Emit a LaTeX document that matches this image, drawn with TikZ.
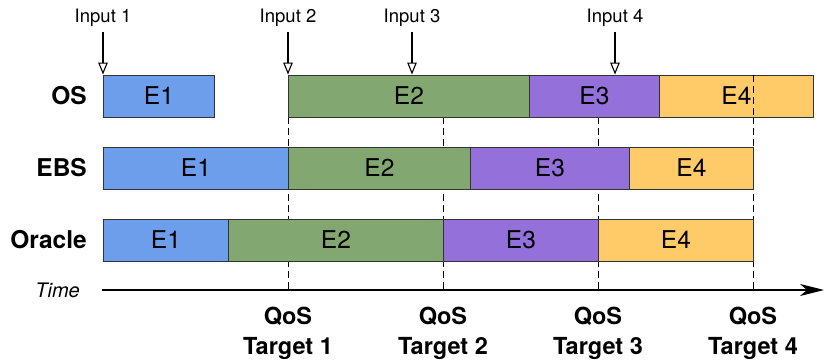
\documentclass[tikz,border=0pt]{standalone}
\usepackage{fontspec}
\setmainfont{TeX Gyre Heros}
\usetikzlibrary{arrows.meta,positioning,backgrounds}
\definecolor{ink}{HTML}{333333}
\definecolor{eblue}{HTML}{6D9EEB}
\definecolor{egreen}{HTML}{83A770}
\definecolor{epurple}{HTML}{9470DA}
\definecolor{eyellow}{HTML}{FFCA68}
\tikzset{seg/.style={draw=ink,line width=.9pt,minimum height=42pt,inner sep=0pt,anchor=west,font=\fontsize{24.5}{27}\selectfont},
 rowlabel/.style={font=\bfseries\fontsize{24.5}{28}\selectfont,inner sep=0pt},
 inlabel/.style={font=\fontsize{18.5}{21}\selectfont,inner sep=0pt},
 inarrow/.style={line width=1.1pt,-{Triangle[open,length=12pt,width=9.5pt]}},
 guideline/.style={line width=.8pt,dash pattern=on 7pt off 4pt},
 timeaxis/.style={line width=1.2pt,-{Stealth[length=24pt,width=12pt,inset=7pt]}},
 timelabel/.style={font=\itshape\fontsize{20}{23}\selectfont,inner sep=0pt},
 qoslabel/.style={font=\bfseries\fontsize{23.5}{30}\selectfont,align=center,inner sep=0pt}}

\begin{document}
\begin{tikzpicture}[x=1pt,y=-1pt]
\useasboundingbox (0,0) rectangle (830,364);
% executions per system
\foreach \k/\a/\b/\c in {1/103/214/eblue,2/288/529/egreen,3/529/659/epurple,4/659/813/eyellow}
 \node[seg,fill=\c,minimum width=\b-\a] (os\k) at (\a,96) {E\k};
\foreach \k/\a/\b/\c in {1/103/288/eblue,2/288/470/egreen,3/470/629/epurple,4/629/753/eyellow}
 \node[seg,fill=\c,minimum width=\b-\a] (ebs\k) at (\a,168) {E\k};
\foreach \k/\a/\b/\c in {1/103/228/eblue,2/228/443/egreen,3/443/598/epurple,4/598/753/eyellow}
 \node[seg,fill=\c,minimum width=\b-\a] (ora\k) at (\a,240) {E\k};
\node[rowlabel,left=16pt of os1] (oslab) {OS};
\node[rowlabel,left=16pt of ebs1] (ebslab) {EBS};
\node[rowlabel,left=16pt of ora1] (oralab) {Oracle};
% inputs
\foreach \k/\x/\s in {1/103/1,2/288/2,3/412/2,4/615/3} {
 \node[inlabel] (in\k) at (\x,18) {Input \k};
 \draw[inarrow] ([yshift=-5pt]in\k.south) -- (in\k.south |- os\s.north);
}
% time axis and targets
\coordinate (t0) at (102,290);
\coordinate (tend) at (824,290);
\foreach \k/\x in {1/288,2/443,3/598,4/753} \coordinate (t\k) at (\x,290);
\draw[timeaxis] (t0) -- (tend);
\node[timelabel,left=22pt of t0] (timelab) {Time};
\foreach \k in {1,...,4} \node[qoslabel,below=17pt of t\k] (qos\k) {QoS\\Target \k};
\begin{scope}[on background layer]
\foreach \k in {1,...,4} \draw[guideline] (t\k |- os1.south) -- (t\k);
\end{scope}
\draw[guideline] (t4 |- os4.north) -- (t4 |- os4.south);
\end{tikzpicture}
\end{document}
